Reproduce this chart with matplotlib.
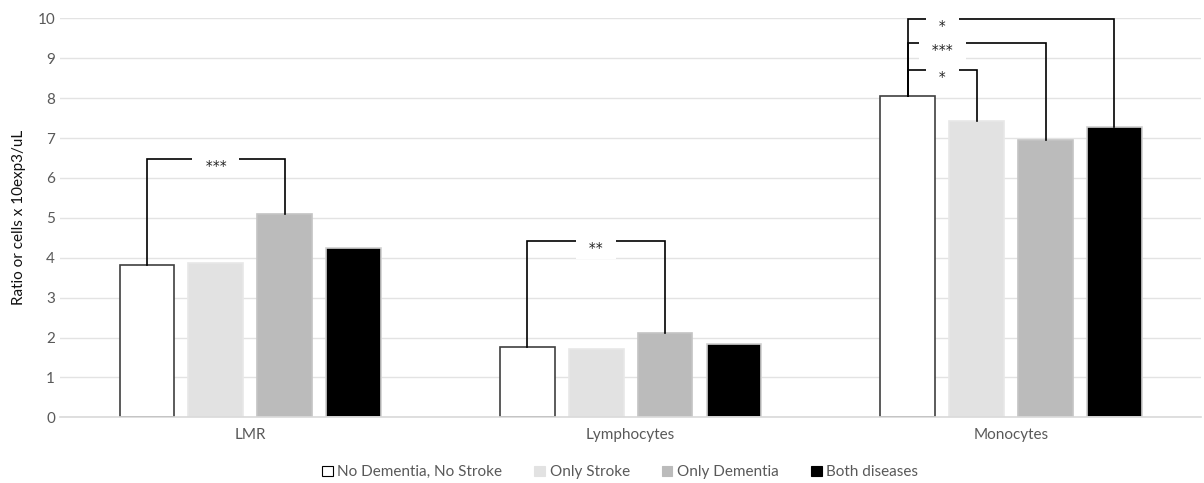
import numpy as np
import matplotlib
matplotlib.use("Agg")
import matplotlib.pyplot as plt
from matplotlib.patches import Patch

plt.rcParams['font.family'] = ['Lato', 'DejaVu Sans']

# Data
categories = ["LMR", "Lymphocytes", "Monocytes"]
groups = ["No Dementia, No Stroke", "Only Stroke", "Only Dementia", "Both diseases"]
no_dementia_no_stroke = [3.81, 1.75, 8.05]
only_stroke = [3.87, 1.72, 7.43]
only_dementia = [5.10, 2.11, 6.95]
both_diseases = [4.24, 1.83, 7.28]
series = [no_dementia_no_stroke, only_stroke, only_dementia, both_diseases]

# significance brackets: (category, from group, to group, height, label, label position in groups)
brackets = [
    (0, 0, 2, 6.47, "***", 1.0),
    (1, 0, 2, 4.43, "**", 1.0),
    (2, 0, 1, 8.70, "*", 0.5),
    (2, 0, 2, 9.37, "***", 0.5),
    (2, 0, 3, 9.99, "*", 0.5),
]

fill_colors = ["#FFFFFF", "#E2E2E2", "#BBBBBB", "#000000"]
edge_colors = ["#404040", "#E8E8E8", "#C4C4C4", "#D0D0D0"]

fig = plt.figure(figsize=(12.04, 4.83), dpi=100)
ax = fig.add_axes([0.0498, 0.136, 0.948, 0.826])

x = np.arange(len(categories))
step = 0.181
width = 0.144
offsets = [(i - 1.5) * step for i in range(4)]

for i, vals in enumerate(series):
    ax.bar(x + offsets[i], vals, width, color=fill_colors[i],
           edgecolor=edge_colors[i], linewidth=1.2, zorder=2, label=groups[i])

# brackets
for cat, g0, g1, h, lab, lpos in brackets:
    x0 = cat + offsets[g0]
    x1 = cat + offsets[g1]
    y0 = series[g0][cat]
    y1 = series[g1][cat]
    ax.plot([x0, x0, x1, x1], [y0, h, h, y1], color="black", lw=1.2,
            zorder=3, solid_joinstyle="miter")
    lx = cat + (lpos - 1.5) * step
    ax.text(lx, h, "  " + lab + "  ", ha="center", va="top", fontsize=10,
            family=["DejaVu Sans"], color="#222222", zorder=4,
            bbox=dict(boxstyle="square,pad=0.3", facecolor="white",
                      edgecolor="none"))

ax.set_xlim(-0.5, 2.5)
ax.set_ylim(0, 10)
ax.set_yticks(range(0, 11))
ax.set_xticks(x)
ax.set_xticklabels(categories)
ax.tick_params(axis="both", length=0, labelsize=11, colors="#595959")
ax.tick_params(axis="x", pad=8)
ax.grid(axis="y", color="#E3E3E3", lw=1.0, zorder=0)
ax.set_axisbelow(True)
for s in ["top", "right", "left"]:
    ax.spines[s].set_visible(False)
ax.spines["bottom"].set_color("#D9D9D9")
ax.spines["bottom"].set_linewidth(1.2)

ax.set_ylabel("Ratio or cells x 10exp3/uL", fontsize=11, color="#111111", labelpad=8)

handles = [Patch(facecolor=fill_colors[i],
                 edgecolor="black" if i == 0 else fill_colors[i], lw=0.8)
           for i in range(4)]
fig.legend(handles, groups, loc="center", bbox_to_anchor=(0.515, 0.022),
           ncol=4, frameon=False, fontsize=11, handlelength=0.7,
           handleheight=0.7, handletextpad=0.3, columnspacing=2.1,
           labelcolor="#595959")

fig.savefig("out.png", dpi=100)
